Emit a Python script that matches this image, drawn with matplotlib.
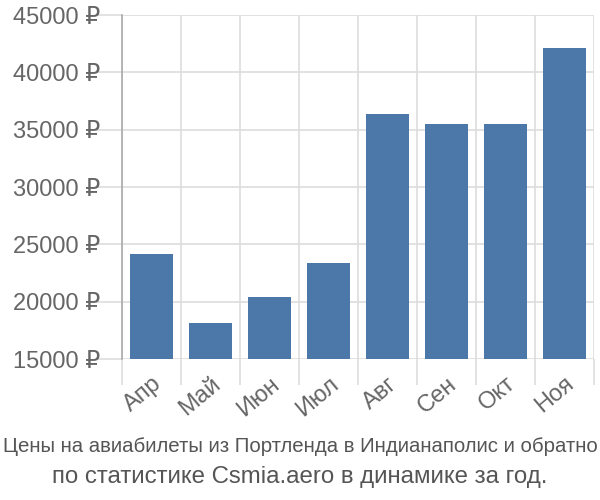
import matplotlib
matplotlib.use('Agg')
import matplotlib.pyplot as plt
import numpy as np

plt.rcParams['font.family'] = ['Liberation Sans', 'DejaVu Sans']

months = ['Апр', 'Май', 'Июн', 'Июл', 'Авг', 'Сен', 'Окт', 'Ноя']
prices = [24200, 18150, 20400, 23350, 36400, 35500, 35500, 42100]
y_ticks = [15000, 20000, 25000, 30000, 35000, 40000, 45000]
title_1 = 'Цены на авиабилеты из Портленда в Индианаполис и обратно'
title_2 = 'по статистике Csmia.aero в динамике за год.'

fig = plt.figure(figsize=(6, 5), dpi=100)
ax = fig.add_axes([122 / 600, 141 / 500, 472 / 600, 344 / 500])

x = np.arange(len(months))
ax.bar(x, np.array(prices) - 15000, bottom=15000, width=0.72, color='#4b78a8', zorder=3)

ax.set_xlim(-0.5, len(months) - 0.5)
ax.set_ylim(15000, 45000)

# horizontal grid + ticks pointing out as grid extensions
ax.set_yticks(y_ticks)
ax.set_yticklabels([f'{v} ₽' for v in y_ticks])
ax.yaxis.grid(True, color='#dddddd', linewidth=1.2, zorder=0)
ax.tick_params(axis='y', length=19, color='#dddddd', width=1.2, labelsize=17,
               labelcolor='#666666', pad=-3)

# vertical grid at category boundaries
bounds = np.arange(len(months) + 1) - 0.5
ax.set_xticks(bounds, minor=True)
ax.xaxis.grid(True, which='minor', color='#dddddd', linewidth=1.2, zorder=0)
ax.tick_params(axis='x', which='minor', length=19, color='#dddddd', width=1.2)
ax.set_xticks(x)
ax.set_xticklabels(months, rotation=40, ha='right', rotation_mode='anchor')
ax.tick_params(axis='x', which='major', length=0, labelsize=17, labelcolor='#666666', pad=10)

for side in ['top', 'right', 'bottom']:
    ax.spines[side].set_visible(False)
ax.spines['left'].set_color('#aaaaaa')
ax.spines['left'].set_linewidth(1.2)
ax.spines['left'].set_zorder(4)

# first line is squeezed to the figure width in the original
fig.text(0.5, 1 - 447 / 500, title_1, ha='center', va='center', fontsize=14.7, color='#555555')
fig.text(0.5, 1 - 477 / 500, title_2, ha='center', va='center', fontsize=17.3, color='#555555')

fig.savefig('out.png', dpi=100)
